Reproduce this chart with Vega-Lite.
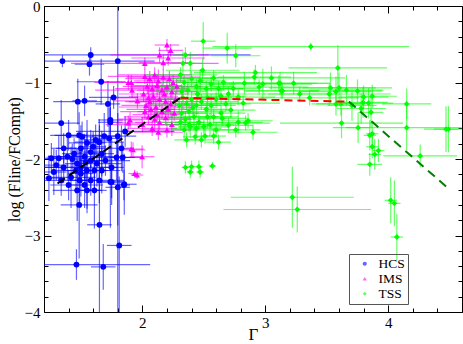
{
"$schema":"https://vega.github.io/schema/vega-lite/v6.json",
"width":418,"height":306,
"autosize":"none",
"padding":{"left":44,"top":6,"right":1,"bottom":32},
"background":"white",
"config":{"view":{"stroke":"black","strokeWidth":1},
"axis":{"labelFont":"Liberation Serif","titleFont":"Liberation Serif","labelColor":"black","titleColor":"black","tickColor":"black","domain":false,"grid":false,"titleFontWeight":"normal"},
"legend":{"labelFont":"Liberation Serif","labelColor":"black"}},
"datasets":{
"pts":[
{"s":"HCS","x":1.35,"y":-0.72,"ex":0.15,"ey":0.08},
{"s":"HCS","x":1.57,"y":-0.76,"ex":0.12,"ey":0.15},
{"s":"HCS","x":1.58,"y":-0.64,"ex":1.3,"ey":0.1},
{"s":"HCS","x":1.8,"y":-0.72,"ex":0.3,"ey":3.5},
{"s":"HCS","x":1.665,"y":-0.99,"ex":0.2,"ey":0.3},
{"s":"HCS","x":1.475,"y":-1.25,"ex":0.2,"ey":0.3},
{"s":"HCS","x":1.53,"y":-1.24,"ex":0.1,"ey":0.2},
{"s":"HCS","x":1.34,"y":-1.53,"ex":0.15,"ey":0.3},
{"s":"HCS","x":1.766,"y":-1.195,"ex":0.2,"ey":0.15},
{"s":"HCS","x":1.72,"y":-1.28,"ex":0.1,"ey":0.3},
{"s":"HCS","x":1.74,"y":-1.49,"ex":0.1,"ey":0.3},
{"s":"HCS","x":1.40,"y":-1.69,"ex":0.15,"ey":0.2},
{"s":"HCS","x":1.86,"y":-1.64,"ex":0.4,"ey":0.2},
{"s":"HCS","x":1.486,"y":-1.69,"ex":0.2,"ey":0.3},
{"s":"HCS","x":1.51,"y":-1.71,"ex":0.1,"ey":0.2},
{"s":"HCS","x":1.55,"y":-1.79,"ex":0.15,"ey":0.3},
{"s":"HCS","x":1.62,"y":-1.75,"ex":0.1,"ey":0.2},
{"s":"HCS","x":1.65,"y":-1.78,"ex":0.2,"ey":0.3},
{"s":"HCS","x":1.73,"y":-1.73,"ex":0.1,"ey":0.4},
{"s":"HCS","x":1.80,"y":-1.70,"ex":0.15,"ey":0.3},
{"s":"HCS","x":1.74,"y":-1.52,"ex":0.1,"ey":0.2},
{"s":"HCS","x":1.50,"y":-1.86,"ex":0.2,"ey":0.3},
{"s":"HCS","x":1.445,"y":-1.93,"ex":0.1,"ey":0.2},
{"s":"HCS","x":1.53,"y":-1.97,"ex":0.3,"ey":0.3},
{"s":"HCS","x":1.58,"y":-2.02,"ex":0.1,"ey":0.4},
{"s":"HCS","x":1.63,"y":-2.06,"ex":0.2,"ey":0.3},
{"s":"HCS","x":1.47,"y":-2.06,"ex":0.1,"ey":0.2},
{"s":"HCS","x":1.39,"y":-1.97,"ex":0.15,"ey":0.3},
{"s":"HCS","x":1.36,"y":-2.11,"ex":0.2,"ey":0.2},
{"s":"HCS","x":1.28,"y":-2.17,"ex":0.1,"ey":0.3},
{"s":"HCS","x":1.34,"y":-2.28,"ex":0.15,"ey":0.2},
{"s":"HCS","x":1.42,"y":-2.24,"ex":0.2,"ey":0.4},
{"s":"HCS","x":1.50,"y":-2.19,"ex":0.1,"ey":0.3},
{"s":"HCS","x":1.55,"y":-2.15,"ex":0.2,"ey":0.5},
{"s":"HCS","x":1.61,"y":-2.15,"ex":0.1,"ey":0.3},
{"s":"HCS","x":1.67,"y":-2.15,"ex":0.15,"ey":0.3},
{"s":"HCS","x":1.75,"y":-2.11,"ex":0.1,"ey":0.4},
{"s":"HCS","x":1.79,"y":-1.98,"ex":0.2,"ey":0.3},
{"s":"HCS","x":1.84,"y":-1.98,"ex":0.1,"ey":0.2},
{"s":"HCS","x":1.83,"y":-1.86,"ex":0.1,"ey":0.3},
{"s":"HCS","x":1.75,"y":-2.30,"ex":0.1,"ey":0.3},
{"s":"HCS","x":1.85,"y":-2.34,"ex":0.05,"ey":0.2},
{"s":"HCS","x":1.47,"y":-2.41,"ex":0.2,"ey":0.4},
{"s":"HCS","x":1.53,"y":-2.34,"ex":0.15,"ey":0.3},
{"s":"HCS","x":1.58,"y":-2.28,"ex":0.1,"ey":0.2},
{"s":"HCS","x":1.65,"y":-2.28,"ex":0.2,"ey":0.3},
{"s":"HCS","x":1.50,"y":-2.11,"ex":0.3,"ey":0.2},
{"s":"HCS","x":1.54,"y":-2.04,"ex":0.1,"ey":0.3},
{"s":"HCS","x":1.46,"y":-2.15,"ex":0.2,"ey":0.3},
{"s":"HCS","x":1.58,"y":-1.91,"ex":0.1,"ey":0.2},
{"s":"HCS","x":1.67,"y":-1.93,"ex":0.1,"ey":0.3},
{"s":"HCS","x":1.70,"y":-2.02,"ex":0.2,"ey":0.2},
{"s":"HCS","x":1.32,"y":-1.99,"ex":0.1,"ey":0.3},
{"s":"HCS","x":1.26,"y":-1.99,"ex":0.1,"ey":0.2},
{"s":"HCS","x":1.24,"y":-2.25,"ex":0.1,"ey":0.3},
{"s":"HCS","x":1.55,"y":-2.41,"ex":0.1,"ey":0.3},
{"s":"HCS","x":1.40,"y":-2.34,"ex":0.15,"ey":0.2},
{"s":"HCS","x":1.61,"y":-2.41,"ex":0.1,"ey":0.5},
{"s":"HCS","x":1.486,"y":-2.60,"ex":0.15,"ey":0.7},
{"s":"HCS","x":1.651,"y":-2.86,"ex":0.1,"ey":1.3},
{"s":"HCS","x":1.464,"y":-3.38,"ex":0.6,"ey":0.2},
{"s":"HCS","x":1.682,"y":-3.41,"ex":0.1,"ey":0.3},
{"s":"HCS","x":1.812,"y":-3.13,"ex":0.1,"ey":0.9},
{"s":"HCS","x":1.80,"y":-2.37,"ex":0.1,"ey":0.5},
{"s":"HCS","x":1.853,"y":-2.33,"ex":0.1,"ey":0.4},
{"s":"HCS","x":1.74,"y":-2.30,"ex":0.1,"ey":0.6},
{"s":"HCS","x":1.43,"y":-2.00,"ex":0.1,"ey":0.2},
{"s":"HCS","x":1.49,"y":-2.28,"ex":0.1,"ey":0.3},
{"s":"HCS","x":1.60,"y":-1.84,"ex":0.1,"ey":0.2},
{"s":"HCS","x":1.69,"y":-1.70,"ex":0.1,"ey":0.3},
{"s":"HCS","x":1.36,"y":-1.86,"ex":0.1,"ey":0.2},
{"s":"HCS","x":1.30,"y":-2.08,"ex":0.1,"ey":0.2},
{"s":"IMS","x":2.20,"y":-0.51,"ex":0.1,"ey":0.08},
{"s":"IMS","x":2.23,"y":-0.58,"ex":0.1,"ey":0.08},
{"s":"IMS","x":2.14,"y":-0.64,"ex":0.4,"ey":0.1},
{"s":"IMS","x":2.21,"y":-0.68,"ex":0.3,"ey":0.1},
{"s":"IMS","x":2.17,"y":-0.74,"ex":0.2,"ey":0.1},
{"s":"IMS","x":2.02,"y":-0.75,"ex":0.6,"ey":0.08},
{"s":"IMS","x":1.916,"y":-1.10,"ex":0.3,"ey":0.1},
{"s":"IMS","x":1.91,"y":-1.00,"ex":0.3,"ey":0.1},
{"s":"IMS","x":1.96,"y":-1.24,"ex":0.2,"ey":0.1},
{"s":"IMS","x":1.924,"y":-1.88,"ex":0.1,"ey":0.1},
{"s":"IMS","x":1.998,"y":-1.97,"ex":0.1,"ey":0.15},
{"s":"IMS","x":1.937,"y":-2.19,"ex":0.05,"ey":0.05},
{"s":"IMS","x":1.957,"y":-2.21,"ex":0.05,"ey":0.05},
{"s":"IMS","x":1.886,"y":-1.53,"ex":0.1,"ey":0.1},
{"s":"IMS","x":1.91,"y":-1.87,"ex":0.1,"ey":0.1},
{"s":"IMS","x":1.886,"y":-1.00,"ex":0.2,"ey":0.1},
{"s":"IMS","x":1.90,"y":-1.49,"ex":0.1,"ey":0.1},
{"s":"IMS","x":2.02,"y":-0.92,"ex":0.3,"ey":0.1},
{"s":"IMS","x":2.06,"y":-0.95,"ex":0.2,"ey":0.1},
{"s":"IMS","x":2.10,"y":-0.90,"ex":0.3,"ey":0.1},
{"s":"IMS","x":2.13,"y":-0.98,"ex":0.2,"ey":0.15},
{"s":"IMS","x":2.17,"y":-0.93,"ex":0.3,"ey":0.1},
{"s":"IMS","x":2.22,"y":-0.95,"ex":0.2,"ey":0.1},
{"s":"IMS","x":2.25,"y":-1.00,"ex":0.3,"ey":0.1},
{"s":"IMS","x":2.04,"y":-1.05,"ex":0.2,"ey":0.1},
{"s":"IMS","x":2.08,"y":-1.08,"ex":0.3,"ey":0.1},
{"s":"IMS","x":2.12,"y":-1.04,"ex":0.2,"ey":0.15},
{"s":"IMS","x":2.16,"y":-1.10,"ex":0.2,"ey":0.1},
{"s":"IMS","x":2.20,"y":-1.06,"ex":0.3,"ey":0.1},
{"s":"IMS","x":2.24,"y":-1.12,"ex":0.2,"ey":0.1},
{"s":"IMS","x":2.01,"y":-1.15,"ex":0.2,"ey":0.1},
{"s":"IMS","x":2.05,"y":-1.20,"ex":0.3,"ey":0.15},
{"s":"IMS","x":2.09,"y":-1.18,"ex":0.2,"ey":0.1},
{"s":"IMS","x":2.14,"y":-1.22,"ex":0.2,"ey":0.1},
{"s":"IMS","x":2.19,"y":-1.25,"ex":0.3,"ey":0.1},
{"s":"IMS","x":2.23,"y":-1.28,"ex":0.2,"ey":0.15},
{"s":"IMS","x":2.03,"y":-1.30,"ex":0.2,"ey":0.1},
{"s":"IMS","x":2.07,"y":-1.35,"ex":0.2,"ey":0.15},
{"s":"IMS","x":2.11,"y":-1.32,"ex":0.3,"ey":0.1},
{"s":"IMS","x":2.16,"y":-1.38,"ex":0.2,"ey":0.1},
{"s":"IMS","x":2.21,"y":-1.35,"ex":0.2,"ey":0.15},
{"s":"IMS","x":2.26,"y":-1.40,"ex":0.2,"ey":0.1},
{"s":"IMS","x":2.05,"y":-1.45,"ex":0.2,"ey":0.1},
{"s":"IMS","x":2.10,"y":-1.48,"ex":0.3,"ey":0.15},
{"s":"IMS","x":2.14,"y":-1.52,"ex":0.2,"ey":0.1},
{"s":"IMS","x":2.19,"y":-1.46,"ex":0.2,"ey":0.1},
{"s":"IMS","x":2.24,"y":-1.55,"ex":0.2,"ey":0.15},
{"s":"IMS","x":2.08,"y":-1.60,"ex":0.2,"ey":0.1},
{"s":"IMS","x":2.13,"y":-1.65,"ex":0.2,"ey":0.1},
{"s":"IMS","x":2.20,"y":-1.62,"ex":0.2,"ey":0.1},
{"s":"IMS","x":2.00,"y":-1.55,"ex":0.3,"ey":0.1},
{"s":"IMS","x":2.27,"y":-1.22,"ex":0.2,"ey":0.1},
{"s":"IMS","x":2.28,"y":-1.05,"ex":0.2,"ey":0.1},
{"s":"IMS","x":2.06,"y":-1.25,"ex":0.2,"ey":0.1},
{"s":"IMS","x":2.12,"y":-1.42,"ex":0.2,"ey":0.1},
{"s":"IMS","x":2.18,"y":-1.15,"ex":0.2,"ey":0.1},
{"s":"IMS","x":2.02,"y":-1.38,"ex":0.2,"ey":0.1},
{"s":"TSS","x":2.495,"y":-0.46,"ex":0.1,"ey":0.25},
{"s":"TSS","x":2.69,"y":-0.55,"ex":0.2,"ey":0.2},
{"s":"TSS","x":2.76,"y":-0.65,"ex":0.2,"ey":0.15},
{"s":"TSS","x":2.35,"y":-0.64,"ex":0.1,"ey":0.1},
{"s":"TSS","x":2.39,"y":-0.75,"ex":0.1,"ey":0.15},
{"s":"TSS","x":2.33,"y":-0.75,"ex":0.1,"ey":0.15},
{"s":"TSS","x":2.92,"y":-0.87,"ex":0.5,"ey":0.1},
{"s":"TSS","x":3.05,"y":-0.94,"ex":0.6,"ey":0.15},
{"s":"TSS","x":2.83,"y":-1.01,"ex":0.3,"ey":0.15},
{"s":"TSS","x":3.11,"y":-1.01,"ex":0.4,"ey":0.1},
{"s":"TSS","x":3.23,"y":-1.01,"ex":0.3,"ey":0.15},
{"s":"TSS","x":2.95,"y":-1.06,"ex":0.4,"ey":0.1},
{"s":"TSS","x":2.66,"y":-1.00,"ex":0.3,"ey":0.1},
{"s":"TSS","x":2.58,"y":-0.94,"ex":0.3,"ey":0.1},
{"s":"TSS","x":2.49,"y":-0.84,"ex":0.3,"ey":0.15},
{"s":"TSS","x":3.14,"y":-1.11,"ex":0.3,"ey":0.1},
{"s":"TSS","x":2.82,"y":-1.27,"ex":0.3,"ey":0.1},
{"s":"TSS","x":2.78,"y":-1.52,"ex":0.2,"ey":0.15},
{"s":"TSS","x":2.86,"y":-1.50,"ex":0.2,"ey":0.1},
{"s":"TSS","x":2.90,"y":-1.65,"ex":0.2,"ey":0.1},
{"s":"TSS","x":2.76,"y":-1.62,"ex":0.2,"ey":0.1},
{"s":"TSS","x":2.65,"y":-1.47,"ex":0.2,"ey":0.1},
{"s":"TSS","x":2.53,"y":-1.45,"ex":0.2,"ey":0.15},
{"s":"TSS","x":2.58,"y":-1.70,"ex":0.1,"ey":0.1},
{"s":"TSS","x":2.51,"y":-1.70,"ex":0.1,"ey":0.1},
{"s":"TSS","x":2.43,"y":-1.71,"ex":0.1,"ey":0.1},
{"s":"TSS","x":2.72,"y":-1.36,"ex":0.2,"ey":0.1},
{"s":"TSS","x":2.39,"y":-1.58,"ex":0.1,"ey":0.15},
{"s":"TSS","x":3.37,"y":-0.53,"ex":0.8,"ey":0.05},
{"s":"TSS","x":3.59,"y":-0.81,"ex":0.4,"ey":0.3},
{"s":"TSS","x":3.53,"y":-1.07,"ex":0.5,"ey":0.2},
{"s":"TSS","x":3.60,"y":-1.07,"ex":0.3,"ey":0.2},
{"s":"TSS","x":3.66,"y":-1.10,"ex":0.3,"ey":0.2},
{"s":"TSS","x":3.75,"y":-1.11,"ex":0.2,"ey":0.15},
{"s":"TSS","x":3.575,"y":-1.12,"ex":0.3,"ey":0.2},
{"s":"TSS","x":3.80,"y":-1.19,"ex":0.2,"ey":0.15},
{"s":"TSS","x":3.87,"y":-1.18,"ex":0.2,"ey":0.15},
{"s":"TSS","x":3.52,"y":-1.15,"ex":0.5,"ey":0.15},
{"s":"TSS","x":3.575,"y":-1.28,"ex":0.2,"ey":0.15},
{"s":"TSS","x":3.615,"y":-1.28,"ex":0.2,"ey":0.15},
{"s":"TSS","x":3.705,"y":-1.30,"ex":0.2,"ey":0.2},
{"s":"TSS","x":3.795,"y":-1.26,"ex":0.2,"ey":0.2},
{"s":"TSS","x":3.84,"y":-1.27,"ex":0.2,"ey":0.2},
{"s":"TSS","x":3.78,"y":-1.34,"ex":0.2,"ey":0.2},
{"s":"TSS","x":3.86,"y":-1.39,"ex":0.1,"ey":0.2},
{"s":"TSS","x":3.62,"y":-1.53,"ex":0.5,"ey":0.2},
{"s":"TSS","x":3.755,"y":-1.59,"ex":0.1,"ey":0.2},
{"s":"TSS","x":3.87,"y":-1.67,"ex":0.05,"ey":0.15},
{"s":"TSS","x":3.85,"y":-1.69,"ex":0.05,"ey":0.2},
{"s":"TSS","x":3.87,"y":-1.84,"ex":0.05,"ey":0.15},
{"s":"TSS","x":3.89,"y":-1.94,"ex":0.05,"ey":0.2},
{"s":"TSS","x":3.92,"y":-1.89,"ex":0.05,"ey":0.15},
{"s":"TSS","x":3.85,"y":-2.07,"ex":0.1,"ey":0.15},
{"s":"TSS","x":4.15,"y":-1.28,"ex":0.2,"ey":0.2},
{"s":"TSS","x":4.15,"y":-1.59,"ex":0.6,"ey":0.3},
{"s":"TSS","x":4.26,"y":-1.96,"ex":0.3,"ey":0.15},
{"s":"TSS","x":4.47,"y":-1.61,"ex":0.1,"ey":0.3},
{"s":"TSS","x":4.49,"y":-1.61,"ex":0.2,"ey":0.3},
{"s":"TSS","x":3.36,"y":-1.20,"ex":0.4,"ey":0.1},
{"s":"TSS","x":3.28,"y":-1.15,"ex":0.3,"ey":0.1},
{"s":"TSS","x":3.13,"y":-1.11,"ex":0.3,"ey":0.1},
{"s":"TSS","x":3.12,"y":-1.01,"ex":0.3,"ey":0.15},
{"s":"TSS","x":2.98,"y":-1.02,"ex":0.4,"ey":0.2},
{"s":"TSS","x":2.91,"y":-0.93,"ex":0.3,"ey":0.1},
{"s":"TSS","x":2.78,"y":-1.19,"ex":0.3,"ey":0.1},
{"s":"TSS","x":2.84,"y":-1.53,"ex":0.2,"ey":0.1},
{"s":"TSS","x":3.22,"y":-2.50,"ex":0.5,"ey":0.4},
{"s":"TSS","x":3.26,"y":-2.66,"ex":0.6,"ey":0.3},
{"s":"TSS","x":4.02,"y":-2.54,"ex":0.05,"ey":0.3},
{"s":"TSS","x":4.05,"y":-2.58,"ex":0.05,"ey":0.3},
{"s":"TSS","x":4.07,"y":-3.02,"ex":0.05,"ey":0.3},
{"s":"TSS","x":2.35,"y":-2.11,"ex":0.03,"ey":0.08},
{"s":"TSS","x":2.40,"y":-2.10,"ex":0.03,"ey":0.08},
{"s":"TSS","x":2.46,"y":-2.10,"ex":0.03,"ey":0.08},
{"s":"TSS","x":2.47,"y":-2.17,"ex":0.03,"ey":0.08},
{"s":"TSS","x":2.57,"y":-2.09,"ex":0.03,"ey":0.05},
{"s":"TSS","x":2.39,"y":-2.17,"ex":0.03,"ey":0.08},
{"s":"TSS","x":2.31,"y":-0.90,"ex":0.3,"ey":0.1},
{"s":"TSS","x":2.34,"y":-1.00,"ex":0.2,"ey":0.1},
{"s":"TSS","x":2.37,"y":-1.10,"ex":0.3,"ey":0.15},
{"s":"TSS","x":2.40,"y":-0.95,"ex":0.2,"ey":0.1},
{"s":"TSS","x":2.44,"y":-1.05,"ex":0.3,"ey":0.1},
{"s":"TSS","x":2.47,"y":-0.98,"ex":0.2,"ey":0.15},
{"s":"TSS","x":2.52,"y":-1.08,"ex":0.3,"ey":0.1},
{"s":"TSS","x":2.56,"y":-1.02,"ex":0.2,"ey":0.1},
{"s":"TSS","x":2.33,"y":-1.20,"ex":0.2,"ey":0.15},
{"s":"TSS","x":2.36,"y":-1.28,"ex":0.3,"ey":0.1},
{"s":"TSS","x":2.40,"y":-1.22,"ex":0.2,"ey":0.1},
{"s":"TSS","x":2.44,"y":-1.30,"ex":0.2,"ey":0.15},
{"s":"TSS","x":2.48,"y":-1.25,"ex":0.3,"ey":0.1},
{"s":"TSS","x":2.52,"y":-1.35,"ex":0.2,"ey":0.1},
{"s":"TSS","x":2.56,"y":-1.30,"ex":0.2,"ey":0.15},
{"s":"TSS","x":2.60,"y":-1.22,"ex":0.3,"ey":0.1},
{"s":"TSS","x":2.64,"y":-1.18,"ex":0.2,"ey":0.1},
{"s":"TSS","x":2.68,"y":-1.28,"ex":0.2,"ey":0.1},
{"s":"TSS","x":2.32,"y":-1.40,"ex":0.2,"ey":0.15},
{"s":"TSS","x":2.35,"y":-1.48,"ex":0.2,"ey":0.1},
{"s":"TSS","x":2.38,"y":-1.38,"ex":0.3,"ey":0.1},
{"s":"TSS","x":2.42,"y":-1.45,"ex":0.2,"ey":0.15},
{"s":"TSS","x":2.46,"y":-1.52,"ex":0.2,"ey":0.1},
{"s":"TSS","x":2.50,"y":-1.58,"ex":0.2,"ey":0.1},
{"s":"TSS","x":2.55,"y":-1.55,"ex":0.2,"ey":0.15},
{"s":"TSS","x":2.60,"y":-1.62,"ex":0.2,"ey":0.1},
{"s":"TSS","x":2.64,"y":-1.40,"ex":0.2,"ey":0.1},
{"s":"TSS","x":2.70,"y":-1.56,"ex":0.2,"ey":0.1},
{"s":"TSS","x":2.34,"y":-1.62,"ex":0.1,"ey":0.15},
{"s":"TSS","x":2.44,"y":-1.60,"ex":0.2,"ey":0.1},
{"s":"TSS","x":2.48,"y":-1.75,"ex":0.1,"ey":0.1},
{"s":"TSS","x":2.62,"y":-1.78,"ex":0.1,"ey":0.1},
{"s":"TSS","x":2.36,"y":-1.75,"ex":0.1,"ey":0.1},
{"s":"TSS","x":2.30,"y":-1.30,"ex":0.2,"ey":0.1},
{"s":"TSS","x":2.70,"y":-1.15,"ex":0.3,"ey":0.1},
{"s":"TSS","x":2.74,"y":-1.08,"ex":0.2,"ey":0.1},
{"s":"TSS","x":2.32,"y":-1.12,"ex":0.2,"ey":0.1},
{"s":"TSS","x":2.38,"y":-1.55,"ex":0.2,"ey":0.1},
{"s":"TSS","x":2.45,"y":-1.15,"ex":0.2,"ey":0.1},
{"s":"TSS","x":2.41,"y":-1.33,"ex":0.2,"ey":0.1},
{"s":"TSS","x":2.58,"y":-1.45,"ex":0.2,"ey":0.1},
{"s":"TSS","x":2.31,"y":-1.52,"ex":0.2,"ey":0.1},
{"s":"TSS","x":2.53,"y":-1.20,"ex":0.2,"ey":0.1},
{"s":"TSS","x":2.62,"y":-1.08,"ex":0.2,"ey":0.1}
],
"lines":[
{"seg":"a","gx":1.31,"gy":-2.32},{"seg":"a","gx":2.31,"gy":-1.20},
{"seg":"b","gx":2.31,"gy":-1.20},{"seg":"b","gx":3.66,"gy":-1.25},
{"seg":"c","gx":3.68,"gy":-1.25},{"seg":"c","gx":4.50,"gy":-2.40}
]},
"layer":[
{"data":{"name":"pts"},
 "mark":{"type":"errorbar","opacity":0.6,"thickness":1.2,"clip":true},
 "encoding":{
  "x":{"field":"x","type":"quantitative","scale":{"domain":[1.2,4.6],"nice":false,"zero":false},
       "axis":{"orient":"bottom","values":[2,3,4],"tickSize":-7,"labelPadding":10,"labelFontSize":15,"title":"Γ","titleFontSize":17,"titlePadding":-4}},
  "y":{"field":"y","type":"quantitative","scale":{"domain":[-4,0],"nice":false,"zero":false},
       "axis":{"orient":"left","values":[0,-1,-2,-3,-4],"tickSize":-7,"labelPadding":11,"labelFontSize":15,"title":"log (Fline/FCompt)","titleFontSize":16,"titlePadding":2}},
  "yError":{"field":"ey"},
  "color":{"field":"s","type":"nominal","title":null}
 }},
{"data":{"name":"pts"},
 "mark":{"type":"errorbar","opacity":0.6,"thickness":1.2,"clip":true},
 "encoding":{
  "x":{"field":"x","type":"quantitative","axis":{"orient":"bottom","values":[1.2,1.4,1.6,1.8,2.2,2.4,2.6,2.8,3.2,3.4,3.6,3.8,4.2,4.4,4.6],"tickSize":-4,"labels":false,"title":null}},
  "xError":{"field":"ex"},
  "y":{"field":"y","type":"quantitative","axis":{"orient":"left","values":[-0.2,-0.4,-0.6,-0.8,-1.2,-1.4,-1.6,-1.8,-2.2,-2.4,-2.6,-2.8,-3.2,-3.4,-3.6,-3.8],"tickSize":-4,"labels":false,"title":null}},
  "color":{"field":"s","type":"nominal","title":null}
 }},
{"data":{"name":"pts"},
 "mark":{"type":"point","filled":true,"opacity":1,"size":34,"clip":true},
 "encoding":{
  "x":{"field":"x","type":"quantitative","axis":{"orient":"top","values":[2,3,4],"tickSize":-7,"labels":false,"title":null}},
  "y":{"field":"y","type":"quantitative","axis":{"orient":"right","values":[0,-1,-2,-3,-4],"tickSize":-7,"labels":false,"title":null}},
  "color":{"field":"s","type":"nominal","title":null,"scale":{"domain":["HCS","IMS","TSS"],"range":["#0000ff","#ff00ff","#00ff00"]},"legend":{"title":null,"orient":"none","legendX":305,"legendY":248,"strokeColor":"#555555","padding":3,"labelFontSize":13.5,"symbolSize":18,"symbolStrokeWidth":0,"rowPadding":0,"symbolOffset":6,"labelOffset":7}},
  "shape":{"field":"s","type":"nominal","title":null,"scale":{"domain":["HCS","IMS","TSS"],"range":["circle","triangle-up","diamond"]},"legend":{"title":null,"orient":"none","legendX":305,"legendY":248,"strokeColor":"#555555","padding":3,"labelFontSize":13.5,"symbolSize":18,"symbolStrokeWidth":0,"rowPadding":0,"symbolOffset":6,"labelOffset":7}}
 }},
{"data":{"name":"lines"},
 "transform":[{"filter":"datum.seg==='a'"}],
 "mark":{"type":"line","color":"black","strokeWidth":2,"strokeDash":[9,5]},
 "encoding":{
  "x":{"field":"gx","type":"quantitative","axis":{"orient":"top","values":[1.2,1.4,1.6,1.8,2.2,2.4,2.6,2.8,3.2,3.4,3.6,3.8,4.2,4.4,4.6],"tickSize":-4,"labels":false,"title":null}},
  "y":{"field":"gy","type":"quantitative","axis":{"orient":"right","values":[-0.2,-0.4,-0.6,-0.8,-1.2,-1.4,-1.6,-1.8,-2.2,-2.4,-2.6,-2.8,-3.2,-3.4,-3.6,-3.8],"tickSize":-4,"labels":false,"title":null}}
 }},
{"data":{"name":"lines"},
 "transform":[{"filter":"datum.seg==='b'"}],
 "mark":{"type":"line","color":"#ff0000","strokeWidth":2,"strokeDash":[8,5]},
 "encoding":{
  "x":{"field":"gx","type":"quantitative","axis":null},
  "y":{"field":"gy","type":"quantitative","axis":null}
 }},
{"data":{"name":"lines"},
 "transform":[{"filter":"datum.seg==='c'"}],
 "mark":{"type":"line","color":"#008000","strokeWidth":2,"strokeDash":[9,6]},
 "encoding":{
  "x":{"field":"gx","type":"quantitative","axis":null},
  "y":{"field":"gy","type":"quantitative","axis":null}
 }}
],
"resolve":{"axis":{"x":"independent","y":"independent"}}
}
